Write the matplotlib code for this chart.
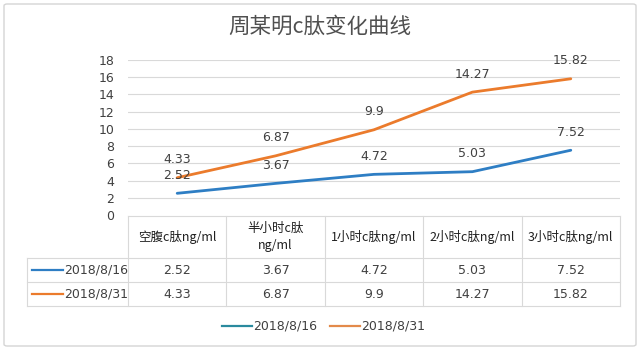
import matplotlib
matplotlib.use("Agg")
import matplotlib.pyplot as plt
from matplotlib.lines import Line2D
from matplotlib.patches import FancyBboxPatch

plt.rcParams['font.family'] = ['Noto Sans CJK SC', 'DejaVu Sans']

title = "周某明c肽变化曲线"
categories = ["空腹c肽ng/ml", "半小时c肽\nng/ml", "1小时c肽ng/ml", "2小时c肽ng/ml", "3小时c肽ng/ml"]
series_names = ["2018/8/16", "2018/8/31"]
s1 = [2.52, 3.67, 4.72, 5.03, 7.52]
s2 = [4.33, 6.87, 9.9, 14.27, 15.82]
s1_labels = ["2.52", "3.67", "4.72", "5.03", "7.52"]
s2_labels = ["4.33", "6.87", "9.9", "14.27", "15.82"]
yticks = [0, 2, 4, 6, 8, 10, 12, 14, 16, 18]

colors = ["#2E7EC4", "#EB7B2C"]
legend_colors = ["#2A8A9E", "#E38A4A"]
grid_c = "#D9D9D9"
text_c = "#404040"

W, H = 640, 353
fig = plt.figure(figsize=(W / 100, H / 100), dpi=100)
fig.patch.set_facecolor("white")

def fx(x): return x / W
def fy(y): return 1 - y / H

# outer border
fig.add_artist(FancyBboxPatch((fx(4), fy(346)), fx(632), 342 / H,
                              boxstyle="round,pad=0,rounding_size=0.005",
                              transform=fig.transFigure, fill=False,
                              edgecolor="#D5D5D5", linewidth=1.0))

x0, x1 = 128, 620
ytop, ybot = 60, 215
ax = fig.add_axes([fx(x0), fy(ybot), (x1 - x0) / W, (ybot - ytop) / H])
ax.set_facecolor("none")
n = len(categories)
xs = list(range(n))
ax.set_xlim(-0.5, n - 0.5)
ax.set_ylim(0, 18)
for t in yticks[1:]:
    ax.axhline(t, color=grid_c, linewidth=0.8, zorder=0)
for sp in ax.spines.values():
    sp.set_visible(False)
ax.set_xticks([])
ax.set_yticks(yticks)
ax.tick_params(axis='y', length=0, pad=10, labelsize=9, labelcolor=text_c)
for lab in ax.get_yticklabels():
    lab.set_family(['DejaVu Sans'])

for vals, labs, c in [(s1, s1_labels, colors[0]), (s2, s2_labels, colors[1])]:
    ax.plot(xs, vals, color=c, linewidth=2.0, solid_capstyle='round', zorder=3)
    for x, v, l in zip(xs, vals, labs):
        ax.annotate(l, (x, v), xytext=(0, 13), textcoords='offset points',
                    ha='center', va='center', fontsize=9, color=text_c,
                    family=['DejaVu Sans'], zorder=4)

fig.text(0.5, fy(27), title, ha='center', va='center', fontsize=15.5, color="#505050")

# data table
lab_x0 = 27
col_w = (x1 - x0) / n
row_y = [216, 258, 282, 306]

def hline(xa, xb, y):
    fig.add_artist(Line2D([fx(xa), fx(xb)], [fy(y), fy(y)], transform=fig.transFigure,
                          color=grid_c, linewidth=0.8))

def vline(x, ya, yb):
    fig.add_artist(Line2D([fx(x), fx(x)], [fy(ya), fy(yb)], transform=fig.transFigure,
                          color=grid_c, linewidth=0.8))

hline(x0, x1, row_y[0])
for y in row_y[1:]:
    hline(lab_x0, x1, y)
vline(lab_x0, row_y[1], row_y[3])
for i in range(n + 1):
    vline(x0 + i * col_w, row_y[0], row_y[3])

for i, cat in enumerate(categories):
    cx = x0 + (i + 0.5) * col_w
    fig.text(fx(cx), fy((row_y[0] + row_y[1]) / 2), cat, ha='center', va='center',
             fontsize=9, color="#202020", linespacing=1.4)

for r, (name, labs, c) in enumerate(zip(series_names, [s1_labels, s2_labels], colors)):
    cy = (row_y[r + 1] + row_y[r + 2]) / 2
    fig.add_artist(Line2D([fx(32), fx(63)], [fy(cy), fy(cy)], transform=fig.transFigure,
                          color=c, linewidth=1.6))
    fig.text(fx(64), fy(cy), name, ha='left', va='center', fontsize=9, color=text_c,
             family=['DejaVu Sans'])
    for i, l in enumerate(labs):
        cx = x0 + (i + 0.5) * col_w
        fig.text(fx(cx), fy(cy), l, ha='center', va='center', fontsize=9, color=text_c,
                 family=['DejaVu Sans'])

# legend
leg_y = 326
for (xa, xb), name, c in zip([(222, 252), (330, 360)], series_names, legend_colors):
    fig.add_artist(Line2D([fx(xa), fx(xb)], [fy(leg_y), fy(leg_y)], transform=fig.transFigure,
                          color=c, linewidth=1.6))
    fig.text(fx(xb + 1), fy(leg_y), name, ha='left', va='center', fontsize=9, color=text_c,
             family=['DejaVu Sans'])

fig.savefig("out.png", dpi=100)
